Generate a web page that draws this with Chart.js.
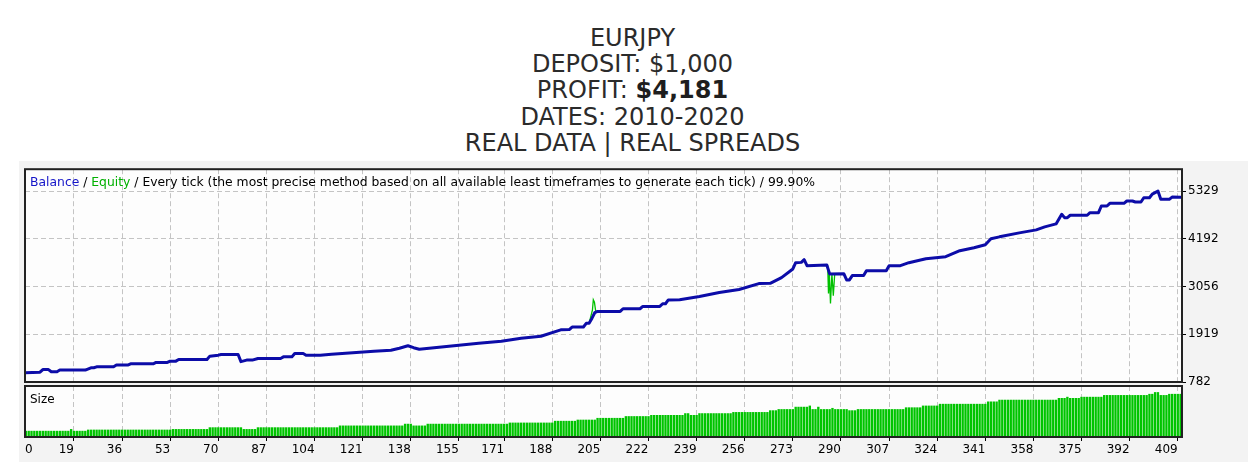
<!DOCTYPE html>
<html><head><meta charset="utf-8">
<script src="https://cdn.jsdelivr.net/npm/chart.js@4.4.1/dist/chart.umd.min.js"></script>
<style>
html,body{margin:0;padding:0;background:#fff;width:1257px;height:466px;overflow:hidden;}
#title{position:absolute;left:8px;top:24.5px;width:1249px;text-align:center;font-family:"DejaVu Sans";font-size:24px;line-height:26.4px;color:#2b2b2b;}
#title b{font-weight:bold;color:#1e1e1e;}
#frame{position:absolute;left:19px;top:161px;width:1229px;height:301px;background:#f3f3f3;}
#mainWrap{position:absolute;left:15px;top:160px;width:1242px;height:232px;}
#sizeWrap{position:absolute;left:15px;top:380px;width:1242px;height:86px;}
canvas{display:block;}
</style></head>
<body>
<div id="title">EURJPY<br>DEPOSIT: $1,000<br>PROFIT: <b>$4,181</b><br>DATES: 2010-2020<br>REAL DATA | REAL SPREADS</div>
<div id="frame"></div>
<div id="mainWrap"><canvas id="mainCanvas" width="1242" height="232"></canvas></div>
<div id="sizeWrap"><canvas id="sizeCanvas" width="1242" height="86"></canvas></div>
<script>
// ---- data ----
const balanceIdx = [0,7,8,10,11,13,14,23,25,26,
27,33,34,38,39,47,48,52,53,55,
56,66,67,70,71,77,78,80,82,84,
92,93,96,97,100,101,106,110,115,120,
125,131,134,137,139,141,148,155,162,170,
177,184,191,194,195,199,200,201,202,203,
204,212,213,219,220,226,227,228,229,233,
240,247,254,261,265,269,273,274,276,277,
278,285,286,291,292,293,294,298,299,306,
307,311,314,320,327,332,337,341,343,346,
353,359,360,362,366,368,369,370,371,377,
378,381,382,384,385,390,391,393,394,396,
397,399,400,402,403,406,407,410];
const balanceVal = [1000,1015,1078,1078,1026,1026,1066,1066,1121,1121,
1144,1144,1185,1185,1215,1215,1248,1248,1279,1279,
1320,1320,1398,1421,1438,1438,1267,1303,1303,1343,
1343,1381,1381,1462,1462,1421,1421,1445,1469,1492,
1516,1540,1587,1646,1599,1563,1611,1658,1706,1753,
1824,1871,2025,2030,2091,2091,2179,2179,2297,2432,
2463,2463,2527,2527,2582,2582,2646,2646,2736,2740,
2818,2913,2984,3126,3133,3268,3474,3624,3631,3695,
3553,3569,3356,3363,3214,3214,3316,3316,3434,3434,
3553,3553,3624,3718,3766,3908,3979,4050,4192,4239,
4334,4405,4429,4476,4547,4777,4696,4696,4753,4753,
4815,4815,4973,4973,5037,5037,5092,5092,5068,5068,
5170,5170,5257,5329,5132,5132,5186,5181];
// equity only where it departs visibly from balance (null = gap)
const equityIdx = [201,202.2,202.5,202.9,203.4, 245, 285.3,285.6,285.9,286.3,286.8,287.3,287.8];
const equityVal = [2179,2500,2740,2680,2440, null, 3560,2890,3360,2650,3360,2840,3360];
// lot size per trade (0..410)
const sizeVal = [
0.1,0.1,0.1,0.1,0.1,0.1,0.1,0.1,0.1,0.1,
0.1,0.1,0.1,0.1,0.1,0.1,0.1,0.1,
0.13,
0.1,0.1,0.1,0.1,0.1,
0.12,0.12,0.12,0.12,0.12,0.12,0.12,0.12,0.12,0.12,
0.12,0.12,0.12,0.12,0.12,0.12,0.12,0.12,0.12,0.12,
0.12,0.12,0.12,0.12,0.12,0.12,0.12,0.12,0.12,0.12,
0.13,0.13,0.13,0.13,0.13,0.13,0.13,0.13,0.13,0.13,
0.13,0.13,0.13,
0.16,0.16,0.16,0.16,0.16,0.16,0.16,0.16,0.16,0.16,
0.16,0.16,
0.13,0.13,0.13,0.13,0.13,
0.16,0.16,0.16,0.16,0.16,0.16,0.16,0.16,0.16,0.16,
0.16,0.16,0.16,0.16,0.16,0.16,0.16,0.16,0.16,0.16,
0.16,0.16,0.16,0.16,0.16,0.16,0.16,0.16,0.16,
0.19,0.19,0.19,0.19,0.19,0.19,0.19,0.19,0.19,0.19,
0.19,0.19,0.19,0.19,0.19,0.19,0.19,0.19,0.19,0.19,
0.19,0.19,0.19,
0.22,0.22,0.22,
0.19,0.19,0.19,0.19,0.19,
0.22,0.22,0.22,0.22,0.22,0.22,0.22,0.22,0.22,0.22,
0.22,0.22,0.22,0.22,0.22,0.22,0.22,0.22,0.22,0.22,
0.22,0.22,0.22,0.22,0.22,0.22,0.22,0.22,0.22,
0.24,0.24,0.24,0.24,0.24,0.24,0.24,0.24,0.24,0.24,
0.24,0.24,0.24,0.24,0.24,0.24,
0.27,0.27,0.27,0.27,0.27,0.27,0.27,0.27,
0.29,0.29,0.29,0.29,0.29,0.29,0.29,
0.32,0.32,0.32,0.32,0.32,0.32,0.32,0.32,0.32,0.32,
0.35,0.35,0.35,0.35,0.35,0.35,0.35,0.35,0.35,
0.37,0.37,0.37,0.37,0.37,0.37,0.37,0.37,0.37,0.37,
0.37,0.37,
0.4,0.4,
0.37,0.37,0.37,
0.4,0.4,0.4,0.4,0.4,0.4,0.4,0.4,0.4,0.4,
0.4,0.4,
0.42,0.42,0.42,0.42,0.42,0.42,0.42,0.42,0.42,0.42,
0.42,0.42,0.42,
0.45,0.45,0.45,
0.47,0.47,0.47,0.47,0.47,0.47,
0.51,0.51,0.51,0.51,0.51,
0.53,
0.47,0.47,
0.51,
0.47,0.47,0.47,0.47,
0.49,
0.47,0.47,0.47,0.47,0.47,
0.45,0.45,0.45,
0.47,0.47,0.47,0.47,0.47,0.47,0.47,0.47,0.47,0.47,
0.47,0.47,0.47,0.47,0.47,0.47,0.47,
0.5,0.5,0.5,0.5,0.5,0.5,
0.53,0.53,0.53,0.53,0.53,0.53,
0.56,0.56,0.56,0.56,0.56,0.56,0.56,0.56,0.56,0.56,
0.56,0.56,0.56,0.56,0.56,0.56,0.56,
0.6,0.6,0.6,0.6,
0.63,0.63,0.63,0.63,0.63,0.63,0.63,0.63,0.63,0.63,
0.63,0.63,0.63,0.63,0.63,0.63,0.63,0.63,0.63,0.63,
0.63,
0.66,0.66,0.66,
0.68,
0.66,0.66,0.66,0.66,
0.68,0.68,0.68,0.68,0.68,0.68,0.68,0.68,
0.71,0.71,0.71,0.71,0.71,0.71,0.71,0.71,0.71,0.71,
0.71,0.71,0.71,0.71,0.71,0.71,
0.73,0.73,
0.76,0.76,
0.71,0.71,0.71,
0.73,0.73,0.73,0.73,0.73];
const xTickLabels = ['0','19','36','53','70','87','104','121','138','155','171','188','205','222','239','256','273','290','307','324','341','358','375','392','409'];
const yTickVals = [782,1919,3056,4192,5329];
const yTickLabels = ['782','1919','3056','4192','5329'];

// ---- styling / layout ----
const FONT = {family:'DejaVu Sans', size:12};
const GRID = '#c4c4c4';
const X_MIN = 1.7, X_MAX = 410.5;

function xTicks(s){
  s.ticks = xTickLabels.map((l,i)=>({value: i===0 ? s.min + 2.7 : Number(l)}));
}
function gridColor(ctx){ return ctx.index===0 ? 'rgba(0,0,0,0)' : GRID; }
function tickCol(ctx){ return ctx.index===0 ? 'rgba(0,0,0,0)' : '#000'; }

const panelPlugin = {
  id:'panel',
  beforeDraw(chart, args, opts){
    const {ctx, chartArea:a} = chart;
    ctx.save(); ctx.fillStyle = '#fdfdfd';
    ctx.fillRect(a.left, a.top, a.right-a.left, a.bottom-a.top); ctx.restore();
  },
  afterDraw(chart, args, opts){
    const {ctx, chartArea:a} = chart;
    ctx.save();
    ctx.strokeStyle = '#222'; ctx.lineWidth = 2;
    ctx.strokeRect(a.left, a.top, a.right-a.left, a.bottom-a.top);
    ctx.font = '12px "DejaVu Sans"'; ctx.textBaseline = 'alphabetic';
    let total = 0;
    for (const p of opts.caption) total += ctx.measureText(p.text).width;
    const sx = opts.width ? opts.width / total : 1;
    ctx.translate(a.left + 5, a.top + 17);
    ctx.scale(sx, 1);
    let x = 0;
    for (const p of opts.caption){ ctx.fillStyle = p.color; ctx.fillText(p.text, x, 0); x += ctx.measureText(p.text).width; }
    ctx.restore();
  }
};

new Chart(document.getElementById('mainCanvas'), {
  type:'line',
  plugins:[panelPlugin],
  data:{datasets:[
    {label:'Balance', data: balanceIdx.map((x,k)=>({x, y: balanceVal[k]})), borderColor:'#0c0ca8', borderWidth:3, pointRadius:0, order:1, borderJoinStyle:'round', borderCapStyle:'round'},
    {label:'Equity', data: equityIdx.map((x,k)=>({x, y: equityVal[k]})), borderColor:'#00c000', borderWidth:1.3, pointRadius:0, spanGaps:false, order:2}
  ]},
  options:{
    responsive:false, animation:false, devicePixelRatio:1,
    layout:{padding:{left:10, top:9, bottom:10, right:0}},
    plugins:{legend:{display:false}, tooltip:{enabled:false},
      panel:{width:785, caption:[
        {text:'Balance', color:'#1414c8'},
        {text:' / ', color:'#000'},
        {text:'Equity', color:'#00b000'},
        {text:' / Every tick (the most precise method based on all available least timeframes to generate each tick) / 99.90%', color:'#000'}
      ]}},
    scales:{
      x:{type:'linear', min:X_MIN, max:X_MAX, afterBuildTicks:xTicks,
        afterFit:s=>{s.height=0;},
        ticks:{display:false},
        grid:{color:gridColor, lineWidth:1, drawTicks:false},
        border:{display:false, dash:[5,3]}},
      y:{position:'right', min:782, max:5850,
        afterBuildTicks:s=>{ s.ticks = yTickVals.map(v=>({value:v})); },
        afterFit:s=>{s.width=75;},
        ticks:{font:FONT, color:'#000', padding:2, callback:(v,i)=>yTickLabels[i]},
        grid:{color:GRID, lineWidth:1, drawTicks:true, tickLength:4, tickColor:'#000', tickBorderDash:[]},
        border:{display:false, dash:[5,3]}}
    }
  }
});

new Chart(document.getElementById('sizeCanvas'), {
  type:'bar',
  plugins:[panelPlugin],
  data:{datasets:[
    {label:'Size', data: sizeVal.map((v,i)=>({x:i, y:v})), backgroundColor:'#00c400', barThickness:1.7, borderWidth:0}
  ]},
  options:{
    responsive:false, animation:false, devicePixelRatio:1,
    layout:{padding:{left:10, top:6, bottom:0, right:75}},
    plugins:{legend:{display:false}, tooltip:{enabled:false},
      panel:{caption:[{text:'Size', color:'#000'}]}},
    scales:{
      x:{type:'linear', min:X_MIN, max:X_MAX, offset:false, afterBuildTicks:xTicks,
        afterFit:s=>{s.height=29;},
        ticks:{font:FONT, color:'#000', padding:2, align:'end', maxRotation:0, autoSkip:false,
          callback:(v,i)=>xTickLabels[i]},
        grid:{color:gridColor, lineWidth:1, drawTicks:true, tickLength:4, tickColor:tickCol, tickBorderDash:[], offset:false},
        border:{display:false, dash:[5,3]}},
      y:{display:false, min:0, max:0.87}
    }
  }
});
</script>
</body></html>
